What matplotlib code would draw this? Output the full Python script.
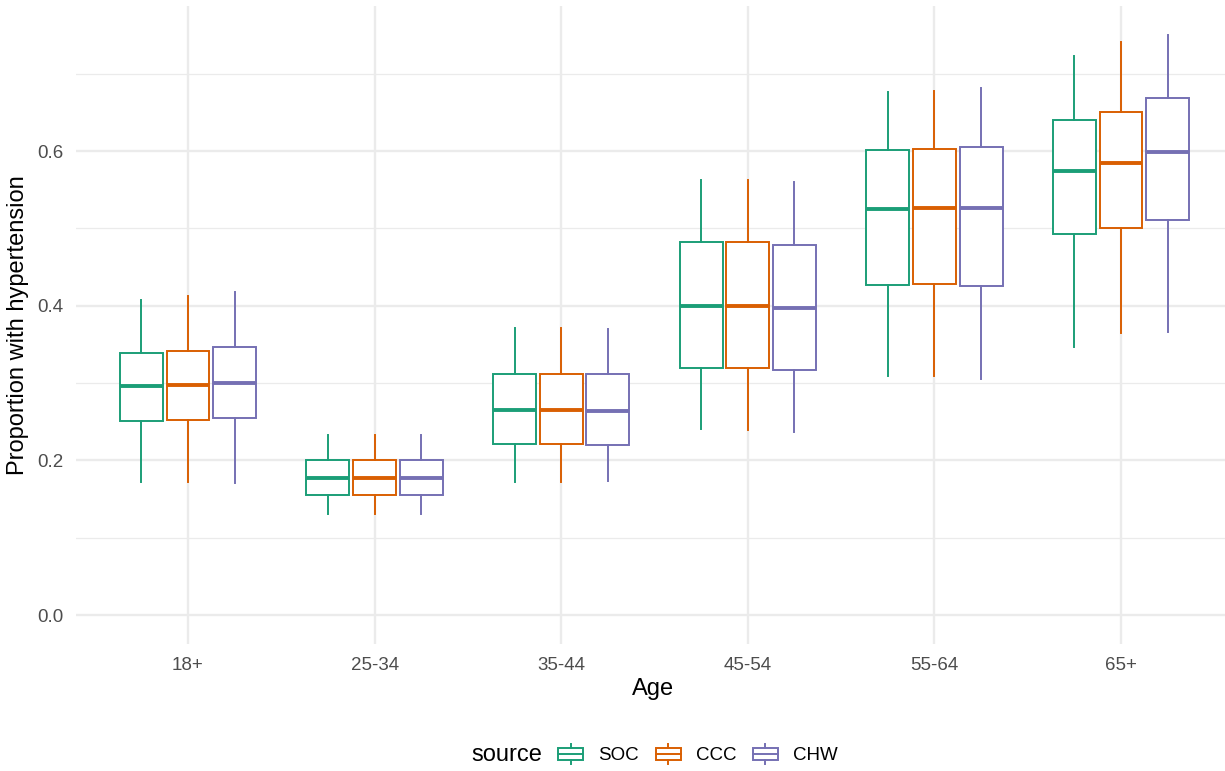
import matplotlib
matplotlib.use("Agg")
import matplotlib.pyplot as plt
from matplotlib.patches import Rectangle
from matplotlib.lines import Line2D
from matplotlib.legend_handler import HandlerBase

plt.rcParams['font.family'] = ['Liberation Sans', 'DejaVu Sans']

categories = ["18+", "25-34", "35-44", "45-54", "55-64", "65+"]
sources = ["SOC", "CCC", "CHW"]
colors = ["#1B9E77", "#D95F02", "#7570B3"]

# [whisker low, Q1, median, Q3, whisker high] per category
soc = [
    [0.172, 0.251, 0.296, 0.339, 0.407],
    [0.131, 0.155, 0.177, 0.200, 0.233],
    [0.172, 0.221, 0.265, 0.312, 0.371],
    [0.240, 0.320, 0.400, 0.482, 0.562],
    [0.309, 0.427, 0.525, 0.601, 0.676],
    [0.346, 0.493, 0.574, 0.640, 0.723],
]
ccc = [
    [0.172, 0.252, 0.297, 0.341, 0.412],
    [0.131, 0.155, 0.177, 0.200, 0.233],
    [0.172, 0.221, 0.265, 0.312, 0.371],
    [0.239, 0.320, 0.400, 0.482, 0.562],
    [0.309, 0.428, 0.526, 0.603, 0.677],
    [0.365, 0.501, 0.584, 0.651, 0.741],
]
chw = [
    [0.171, 0.255, 0.300, 0.346, 0.418],
    [0.131, 0.155, 0.177, 0.200, 0.233],
    [0.173, 0.220, 0.264, 0.312, 0.370],
    [0.236, 0.317, 0.397, 0.478, 0.560],
    [0.305, 0.426, 0.526, 0.605, 0.682],
    [0.366, 0.511, 0.599, 0.669, 0.750],
]
series = [soc, ccc, chw]
y_ticks = [0.0, 0.2, 0.4, 0.6]
y_minor = [0.1, 0.3, 0.5, 0.7]

W, H = 1225, 771
fig = plt.figure(figsize=(W / 100, H / 100), dpi=100)
left_px, right_px, top_px, bot_px = 76, 1233, 6, 644
ax = fig.add_axes([left_px / W, 1 - bot_px / H, (right_px - left_px) / W, (bot_px - top_px) / H])
ax.set_xlim(0.4, len(categories) + 0.6)
ax.set_ylim(-0.0375, 0.7875)

grid_col = "#EBEBEB"
for y in y_minor:
    ax.axhline(y, color=grid_col, lw=0.9, zorder=0)
for y in y_ticks:
    ax.axhline(y, color=grid_col, lw=1.7, zorder=0)
for i in range(len(categories)):
    ax.axvline(i + 1, color=grid_col, lw=1.7, zorder=0)

offsets = [-0.25, 0.0, 0.25]
for s, (data, col, off) in enumerate(zip(series, colors, offsets)):
    stats = []
    for i, (lo, q1, med, q3, hi) in enumerate(data):
        stats.append(dict(whislo=lo, q1=q1, med=med, q3=q3, whishi=hi, fliers=[], label=""))
    pos = [i + 1 + off for i in range(len(categories))]
    ax.bxp(stats, positions=pos, widths=0.23, showcaps=False, showfliers=False,
           patch_artist=True, manage_ticks=False,
           boxprops=dict(facecolor="white", edgecolor=col, linewidth=1.4),
           whiskerprops=dict(color=col, linewidth=1.4),
           medianprops=dict(color=col, linewidth=2.8, solid_capstyle="butt"))

ax.set_xticks(range(1, len(categories) + 1))
ax.set_xticklabels(categories)
ax.set_yticks(y_ticks)
ax.set_yticklabels([f"{v:.1f}" for v in y_ticks])
ax.tick_params(axis="both", length=0, labelsize=13.5, labelcolor="#4D4D4D")
ax.tick_params(axis="y", pad=9)
ax.tick_params(axis="x", pad=9)
for sp in ax.spines.values():
    sp.set_visible(False)
ax.set_facecolor("white")

fig.text(653 / W, 1 - 689 / H, "Age", ha="center", va="center", fontsize=17)
fig.text(18 / W, 1 - 325 / H, "Proportion with hypertension", ha="center", va="center",
         rotation=90, fontsize=17)


class BoxHandler(HandlerBase):
    def create_artists(self, legend, orig_handle, xdescent, ydescent, width, height, fontsize, trans):
        col = orig_handle.get_color()
        cx = -xdescent + width / 2
        by = -ydescent
        r = Rectangle((-xdescent, by + height * 0.12), width, height * 0.76,
                      facecolor="white", edgecolor=col, lw=1.4, transform=trans)
        l1 = Line2D([cx, cx], [by - height * 0.12, by + height * 0.12], color=col, lw=1.4, transform=trans)
        l2 = Line2D([cx, cx], [by + height * 0.88, by + height * 1.12], color=col, lw=1.4, transform=trans)
        lm = Line2D([-xdescent, -xdescent + width], [by + height / 2, by + height / 2], color=col, lw=1.4, transform=trans)
        return [r, l1, l2, lm]


handles = [Line2D([], [], color=c) for c in colors]
leg = fig.legend(handles, sources, loc="center", bbox_to_anchor=(698 / W, 1 - 755 / H),
                 ncol=3, frameon=False, fontsize=13.5, handler_map={Line2D: BoxHandler()},
                 handlelength=1.33, handleheight=1.0, handletextpad=0.8, columnspacing=0.9,
                 borderpad=0, borderaxespad=0)
fig.text(471 / W, 1 - 755 / H, "source", ha="left", va="center", fontsize=17)

fig.savefig("out.png", dpi=100, facecolor="white")
